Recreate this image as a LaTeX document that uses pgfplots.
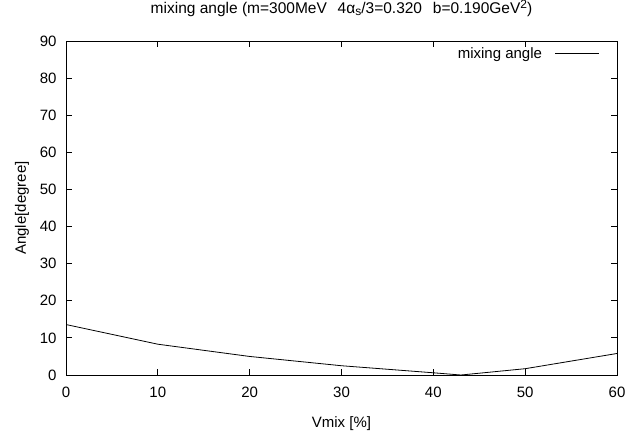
\documentclass[border=0pt]{standalone}
\usepackage{pgfplots}
\pgfplotsset{compat=1.18}
\usepackage{fontspec}
\setmainfont{Liberation Sans}
\newcommand{\fs}{\fontsize{15}{17}\selectfont}
\begin{document}
\begin{tikzpicture}
\begin{axis}[
  scale only axis,
  width=551pt, height=334pt,
  xmin=0, xmax=60, ymin=0, ymax=90,
  xtick={0,10,...,60}, ytick={0,10,...,90},
  tick align=inside, tick pos=both,
  major tick length=6pt,
  axis line style={line width=0.8pt},
  every tick/.style={line width=0.8pt,black},
  /pgf/number format/assume math mode=true,
  font=\fs,
  ticklabel style={font=\fs},
  xticklabel style={yshift=-8pt},
  yticklabel style={xshift=-6pt},
  title={\fontsize{15.5}{17}\selectfont mixing angle (m=300MeV\hspace{0.7em}4α\raisebox{-0.35ex}{\fontsize{12}{12}\selectfont s}/3=0.320\hspace{0.7em}b=0.190GeV\raisebox{0.55ex}{\fontsize{12}{12}\selectfont 2})},
  title style={at={(axis description cs:0.5,1)}, anchor=base, yshift=22pt, inner sep=0pt},
  xlabel={Vmix [\%]},
  xlabel style={at={(axis description cs:0.5,0)}, anchor=base, yshift=-52pt, inner sep=0pt},
  ylabel={Angle[degree]},
  ylabel style={at={(axis description cs:-0.08,0.5)}, anchor=center, rotate=0, inner sep=0pt},
  legend style={draw=none, fill=none, at={(axis description cs:1,1)}, anchor=north east, xshift=-14pt, yshift=-2pt, font=\fs},
  legend cell align=right,
  legend plot pos=right,
  legend image code/.code={\draw[#1] (0pt,0pt) -- (44pt,0pt);},
]
\addplot[black, line width=0.8pt] coordinates {
  (0,13.6) (10,8.3) (20,5.0) (30,2.5) (40,0.6) (43,0) (50,1.7) (60,5.8)
};
\addlegendentry{mixing angle\hspace*{11pt}}
\end{axis}
\pgfresetboundingbox
\path ([shift={(-66pt,-70pt)}]current axis.south west) rectangle ([shift={(9pt,41pt)}]current axis.north east);
\end{tikzpicture}
\end{document}
